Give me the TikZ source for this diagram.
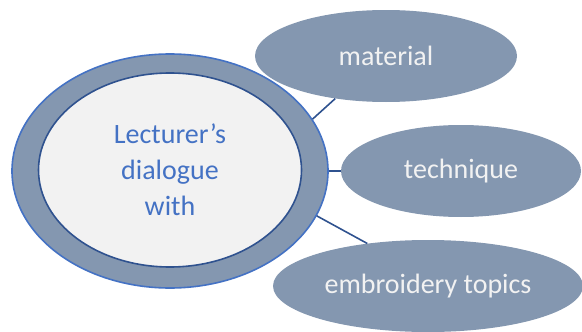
\documentclass[tikz,border=0pt]{standalone}
\usepackage{fontspec}
\setmainfont{Carlito}
\usepackage{tikz}
\usetikzlibrary{shapes,shapes.geometric,positioning,calc}
\definecolor{slate}{HTML}{8497B0}
\definecolor{rimblue}{HTML}{4472C4}
\definecolor{navy}{HTML}{2F528F}
\definecolor{paper}{HTML}{F2F2F2}

\begin{document}
\begin{tikzpicture}[x=1pt,y=-1pt,
    topic/.style={ellipse,fill=slate,inner sep=0pt,text=paper,font=\fontsize{28}{34}\selectfont},
    link/.style={navy,line width=1.6pt}]
    \useasboundingbox (0,0) rectangle (582,332);
    \node [ellipse,fill=slate,draw=rimblue,line width=1.6pt,minimum width=316pt,minimum height=234pt] (outer) at (170,171) {};
    \node [ellipse,fill=paper,draw=navy,line width=1.6pt,minimum width=263pt,minimum height=194pt,text=rimblue,align=center,font=\fontsize{28}{36}\selectfont] (center) at (170,170) {Lecturer’s\\dialogue\\with};
    \node [topic,minimum width=262pt,minimum height=92pt] (material) at (386,56) {material};
    \node [topic,minimum width=240pt,minimum height=92pt] (technique) at (461,171) {technique};
    \node [topic,minimum width=310pt,minimum height=92pt] (topics) at (428,286) {embroidery topics};

    \draw [link] (outer.20) -- (material.220);
    \draw [link] (outer.0) -- (technique.west);
    \draw [link] (outer.-17) -- (topics.145);
\end{tikzpicture}
\end{document}
